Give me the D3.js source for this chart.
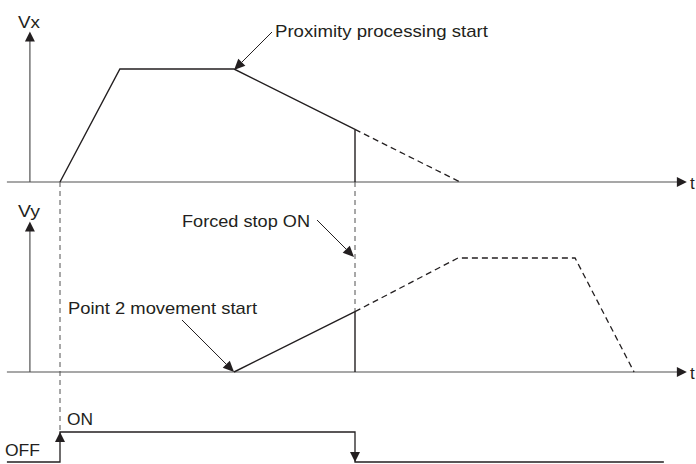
<!DOCTYPE html>
<html><head><meta charset="utf-8">
<script src="https://cdn.jsdelivr.net/npm/d3@7"></script>
<style>body{margin:0;background:#fff}svg{display:block}text{font-family:"Liberation Sans",Arial,sans-serif;fill:#231f20}</style>
</head><body><svg id="c" width="696" height="464"></svg>
<script>
// time axis (arbitrary units), velocity in % of max
const vxSolidT = [0, 20.3, 59, 100];
const vxSolidV = [0, 100, 100, 46.5];
const vxDashT = [100, 135.6];
const vxDashV = [46.5, 0];
const vySolidT = [59, 100];
const vySolidV = [0, 53];
const vyDashT = [100, 134.9, 174.6, 194.6];
const vyDashV = [53, 100, 100, 0];
const sigT = [-18, 0, 0, 100, 100, 204.7];
const sigV = [0, 0, 1, 1, 0, 0];
const startT = 0, stopT = 100;
const labels = {vx:"Vx", vy:"Vy", t:"t", prox:"Proximity processing start", forced:"Forced stop ON", p2:"Point 2 movement start", on:"ON", off:"OFF"};

const svg = d3.select("#c");
const x = d3.scaleLinear().domain([0, 100]).range([60, 355]);
const yx = d3.scaleLinear().domain([0, 100]).range([182, 69]);
const yy = d3.scaleLinear().domain([0, 100]).range([372, 258]);
const ys = d3.scaleLinear().domain([0, 1]).range([462, 432]);
const INK = "#231f20", AX = "#505050";

function tri(tip, dir, len, hw){ // dir: "up","down","right"
  const [tx,ty]=tip;
  let p;
  if(dir==="up") p=[[tx,ty],[tx-hw,ty+len],[tx+hw,ty+len]];
  else if(dir==="down") p=[[tx,ty],[tx-hw,ty-len],[tx+hw,ty-len]];
  else p=[[tx,ty],[tx-len,ty-hw],[tx-len,ty+hw]];
  svg.append("path").attr("d","M"+p.map(q=>q.join(",")).join("L")+"Z").attr("fill",INK);
}
function arrowLine(x1,y1,x2,y2){
  const a=Math.atan2(y2-y1,x2-x1), len=11, hw=5;
  const bx=x2-len*Math.cos(a), by=y2-len*Math.sin(a);
  svg.append("line").attr("x1",x1).attr("y1",y1).attr("x2",bx).attr("y2",by).attr("stroke",INK).attr("stroke-width",1);
  const nx=-Math.sin(a)*hw, ny=Math.cos(a)*hw;
  svg.append("path").attr("d",`M${x2},${y2}L${bx+nx},${by+ny}L${bx-nx},${by-ny}Z`).attr("fill",INK);
}
const line = (ys_) => d3.line().x(d=>x(d[0])).y(d=>ys_(d[1]));
const zip=(a,b)=>a.map((v,i)=>[v,b[i]]);

// guide dashed verticals
svg.append("line").attr("x1",x(startT)).attr("x2",x(startT)).attr("y1",yx(0)).attr("y2",ys(1)).attr("stroke",AX).attr("stroke-width",1).attr("stroke-dasharray","5,4");
svg.append("line").attr("x1",x(stopT)).attr("x2",x(stopT)).attr("y1",yx(0)).attr("y2",yy(vySolidV[1])).attr("stroke",AX).attr("stroke-width",1).attr("stroke-dasharray","5,4");

// axes
const axL = x(-18), axR = x(212.5), axV = x(-10.2);
[[yx,31.5],[yy,221.5]].forEach(([sc,top])=>{
  svg.append("line").attr("x1",axL).attr("x2",axR-9).attr("y1",sc(0)).attr("y2",sc(0)).attr("stroke",AX).attr("stroke-width",1.2);
  tri([axR,sc(0)],"right",10,5);
  svg.append("line").attr("x1",axV).attr("x2",axV).attr("y1",sc(0)).attr("y2",top+9).attr("stroke",AX).attr("stroke-width",1.2);
  tri([axV,top],"up",10,5);
});

// Vx
svg.append("path").attr("d",line(yx)(zip(vxSolidT,vxSolidV))).attr("fill","none").attr("stroke",INK).attr("stroke-width",1.4);
svg.append("line").attr("x1",x(stopT)).attr("x2",x(stopT)).attr("y1",yx(0)).attr("y2",yx(vxSolidV[3])).attr("stroke",INK).attr("stroke-width",1.4);
svg.append("path").attr("d",line(yx)(zip(vxDashT,vxDashV))).attr("fill","none").attr("stroke",INK).attr("stroke-width",1.3).attr("stroke-dasharray","6,4");
// Vy
svg.append("path").attr("d",line(yy)(zip(vySolidT,vySolidV))).attr("fill","none").attr("stroke",INK).attr("stroke-width",1.4);
svg.append("line").attr("x1",x(stopT)).attr("x2",x(stopT)).attr("y1",yy(0)).attr("y2",yy(vySolidV[1])).attr("stroke",INK).attr("stroke-width",1.4);
svg.append("path").attr("d",line(yy)(zip(vyDashT,vyDashV))).attr("fill","none").attr("stroke",INK).attr("stroke-width",1.3).attr("stroke-dasharray","6,4");

// signal
const sp = zip(sigT,sigV);
svg.append("path").attr("d",line(ys)(sp)).attr("fill","none").attr("stroke",INK).attr("stroke-width",1.3);
tri([x(0),ys(1)],"up",10,5);
tri([x(100),ys(0)],"down",10,5);

// annotation arrows
arrowLine(272,32,x(59),yx(100)+1);
arrowLine(317,220,x(100)-1,257);
arrowLine(182,320,x(59),yy(0));

// texts
function txt(s,xx,yb,w,fs){
  const t=svg.append("text").attr("x",xx).attr("y",yb).attr("font-size",fs||17).text(s);
  if(w) t.attr("textLength",w).attr("lengthAdjust","spacingAndGlyphs");
}
txt(labels.vx,18,28,22,16);
txt(labels.vy,18,217,22,16);
txt(labels.t,690,189,0,17);
txt(labels.t,690,379,0,17);
txt(labels.prox,275,37,213);
txt(labels.forced,182,227,128);
txt(labels.p2,68,314,189);
txt(labels.on,67,425,26,16);
txt(labels.off,5,456,35,16);
</script></body></html>
